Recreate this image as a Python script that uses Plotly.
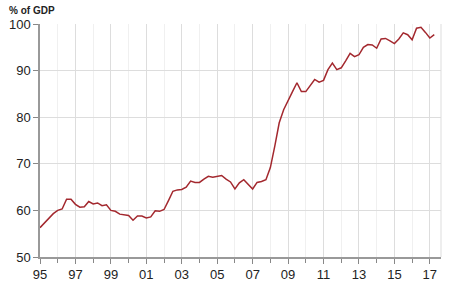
import plotly.graph_objects as go

start_year = 1995
debt_pct_gdp = [
    56.3, 57.3, 58.4, 59.3,   # 1995
    60.0, 60.3, 62.4, 62.4,   # 1996
    61.3, 60.7, 60.8, 61.9,   # 1997
    61.4, 61.6, 61.0, 61.2,   # 1998
    60.0, 59.8, 59.2, 59.0,   # 1999
    58.9, 57.9, 58.8, 58.8,   # 2000
    58.4, 58.6, 59.9, 59.8,   # 2001
    60.2, 62.1, 64.1, 64.4,   # 2002
    64.5, 65.0, 66.3, 66.0,   # 2003
    66.0, 66.7, 67.3, 67.1,   # 2004
    67.3, 67.5, 66.7, 66.1,   # 2005
    64.6, 65.9, 66.6, 65.5,   # 2006
    64.6, 66.0, 66.2, 66.6,   # 2007
    69.2, 73.8, 78.8, 81.6,   # 2008
    83.7, 85.5, 87.4, 85.5,   # 2009
    85.5, 86.9, 88.1, 87.5,   # 2010
    87.9, 90.2, 91.6, 90.2,   # 2011
    90.6, 92.1, 93.7, 93.0,   # 2012
    93.4, 95.0, 95.6, 95.5,   # 2013
    94.8, 96.8, 96.9, 96.4,   # 2014
    95.8, 96.8, 98.1, 97.7,   # 2015
    96.6, 99.1, 99.3, 98.2,   # 2016
    97.0, 97.7,               # 2017
]
quarters = [start_year + i / 4 for i in range(len(debt_pct_gdp))]

major_years = list(range(1995, 2018, 2))
major_labels = [f"{y % 100:02d}" for y in major_years]
minor_years = list(range(1996, 2018, 2))
y_ticks = [50, 60, 70, 80, 90, 100]

fig = go.Figure()
fig.add_trace(go.Scatter(
    x=quarters, y=debt_pct_gdp, mode="lines",
    line=dict(color="#A3282E", width=1.5),
    hoverinfo="skip", showlegend=False,
))

font = "Liberation Sans, Arial, sans-serif"
fig.update_layout(
    width=450, height=291,
    margin=dict(l=40, r=9, t=24, b=32),
    paper_bgcolor="white", plot_bgcolor="white",
    font=dict(family=font, size=13, color="#222222"),
    xaxis=dict(
        range=[1995, 2017.63],
        tickvals=major_years, ticktext=major_labels,
        ticks="outside", ticklen=5, tickcolor="#888888",
        showline=True, linecolor="#999999", linewidth=1.5,
        showgrid=True, gridcolor="#dddddd", gridwidth=1,
        zeroline=False,
        tickfont=dict(size=13, color="#222222"),
        minor=dict(tickvals=minor_years, ticks="outside", ticklen=4,
                   tickcolor="#888888", showgrid=True, gridcolor="#f0f0f0"),
    ),
    yaxis=dict(
        range=[50, 100],
        tickvals=y_ticks,
        ticks="outside", ticklen=5, tickcolor="#888888",
        showline=True, linecolor="#999999", linewidth=1.5,
        showgrid=True, gridcolor="#dddddd", gridwidth=1,
        zeroline=False,
        tickfont=dict(size=13, color="#222222"),
    ),
    shapes=[dict(type="line", xref="paper", yref="paper",
                 x0=1, x1=1, y0=0, y1=1,
                 line=dict(color="#dddddd", width=1))],
    annotations=[dict(
        text="<b>% of GDP</b>", xref="paper", yref="paper",
        x=(7 - 40) / 401, y=1 + 14 / 235, xanchor="left", yanchor="middle",
        showarrow=False,
        font=dict(family=font, size=10, color="#222222"),
    )],
)

fig.write_html("out.html")
